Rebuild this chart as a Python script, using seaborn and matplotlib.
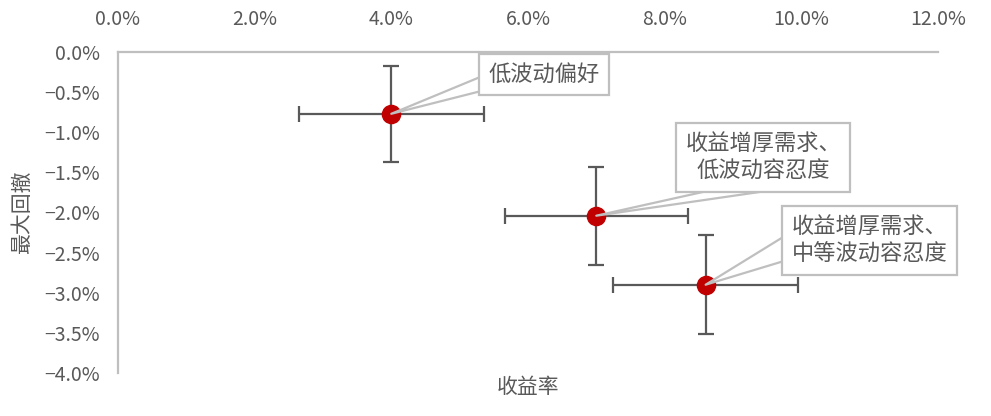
import matplotlib
matplotlib.use("Agg")
import matplotlib.pyplot as plt
import matplotlib.ticker as mticker
import seaborn as sns
import pandas as pd

# data (percent)
labels = ["低波动偏好", "收益增厚需求、\n低波动容忍度", "收益增厚需求、\n中等波动容忍度"]
returns = [4.0, 7.0, 8.6]
drawdowns = [-0.77, -2.04, -2.90]
return_err = [1.35, 1.34, 1.35]
drawdown_err = [0.60, 0.61, 0.62]

x_ticks = [0, 2, 4, 6, 8, 10, 12]
y_ticks = [0, -0.5, -1.0, -1.5, -2.0, -2.5, -3.0, -3.5, -4.0]

# callout box centres (data coords), text alignment, wedge start inside the box and its width
label_pos = [(6.24, -0.28), (9.44, -1.31), (11.0, -2.35)]
label_align = ["center", "center", "left"]
wedge_start = [(0.29, 0.66), (0.63, 0.02), (0.25, 0.74)]
wedge_width = [0.89, 0.64, 1.6]

sns.set_theme(style="white")
plt.rcParams['font.family'] = ['Noto Sans CJK SC', 'DejaVu Sans']
plt.rcParams['axes.unicode_minus'] = True

df = pd.DataFrame({"ret": returns, "dd": drawdowns})

fig = plt.figure(figsize=(9.91, 4.16), dpi=100)
ax = fig.add_axes([0.119, 0.1034, 0.8275, 0.7716])

ax.errorbar(returns, drawdowns, xerr=return_err, yerr=drawdown_err, fmt="none",
            ecolor="#595959", elinewidth=1.6, capsize=6, capthick=1.6, zorder=2)
sns.scatterplot(data=df, x="ret", y="dd", ax=ax, s=170, color="#c00000",
                edgecolor="#c00000", zorder=3, legend=False)

# wedge starts inside the box (not clipped), the white box then covers its root
for lab, (tx, ty), al, rp, tw, px, py in zip(labels, label_pos, label_align, wedge_start,
                                             wedge_width, returns, drawdowns):
    ax.annotate(lab, xy=(px, py), xytext=(tx, ty), textcoords="data",
                fontsize=16, color="#595959", ha="center", va="center",
                multialignment=al, linespacing=1.25, annotation_clip=False,
                bbox=dict(boxstyle="square,pad=0.42", fc="white", ec="#bfbfbf", lw=1.6),
                arrowprops=dict(arrowstyle=f"wedge,tail_width={tw}", fc="white",
                                ec="#bfbfbf", lw=1.6, shrinkA=0, shrinkB=0,
                                patchA=None, relpos=rp),
                zorder=4)

ax.set_xlim(0, 12)
ax.set_ylim(-4, 0)
ax.set_xticks(x_ticks)
ax.set_yticks(y_ticks)
ax.xaxis.set_major_formatter(mticker.FuncFormatter(lambda v, p: f"{v:.1f}%"))
ax.yaxis.set_major_formatter(mticker.FuncFormatter(lambda v, p: f"{v:.1f}%".replace("-", "\u2212")))
ax.xaxis.tick_top()
ax.xaxis.set_label_position("bottom")
ax.tick_params(axis="x", length=0, pad=16, labelsize=14, labelcolor="#595959")
ax.tick_params(axis="y", length=0, pad=13, labelsize=14, labelcolor="#595959")

for s in ["bottom", "right"]:
    ax.spines[s].set_visible(False)
for s in ["top", "left"]:
    ax.spines[s].set_color("#bfbfbf")
    ax.spines[s].set_linewidth(1.6)

ax.set_xlabel("收益率", fontsize=15, color="#595959", labelpad=2)
ax.set_ylabel("最大回撤", fontsize=15, color="#595959", labelpad=8)

fig.savefig("out.png", dpi=100)
